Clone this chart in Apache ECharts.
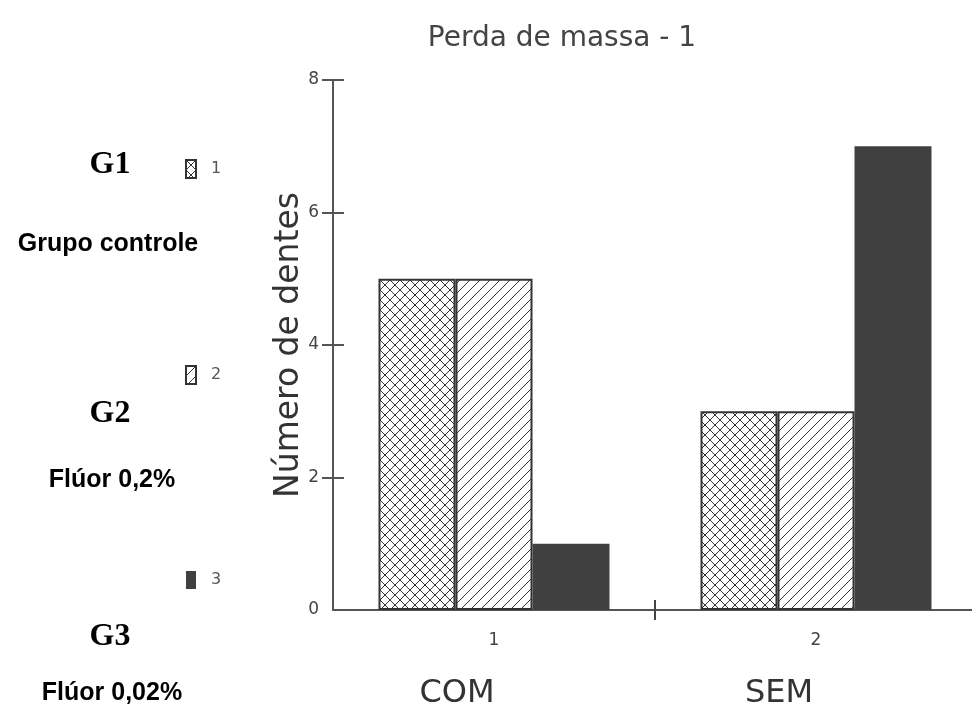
<!DOCTYPE html>
<html><head><meta charset="utf-8">
<script src="https://cdn.jsdelivr.net/npm/echarts@6/dist/echarts.min.js"></script>
<style>html,body{margin:0;padding:0;background:#fff}#c{width:972px;height:709px}</style>
</head><body><div id="c"></div>
<script>
const categories = ['1', '2'];
const categoryNames = ['COM', 'SEM'];
const seriesNames = ['1', '2', '3'];
const series1 = [5, 3];
const series2 = [5, 3];
const series3 = [1, 7];
const yTickValues = [2, 4, 6, 8];
const xTickValues = [1];

function makePattern(kind) {
  const s = 10;
  const c = document.createElement('canvas');
  c.width = s; c.height = s;
  const g = c.getContext('2d');
  g.fillStyle = '#fff'; g.fillRect(0, 0, s, s);
  g.strokeStyle = '#333'; g.lineWidth = 1;
  g.beginPath();
  g.moveTo(-1, s + 1); g.lineTo(s + 1, -1);
  if (kind === 'cross') { g.moveTo(-1, -1); g.lineTo(s + 1, s + 1); }
  g.stroke();
  return { image: c, repeat: 'repeat' };
}

const chart = echarts.init(document.getElementById('c'), null, { renderer: 'canvas' });
const fills = [makePattern('cross'), makePattern('diag'), '#404040'];
const values = [series1, series2, series3];

const tickAxis = inside => ({
  type: 'value', min: 0, max: 2, position: 'bottom',
  axisLine: { show: false }, axisLabel: { show: false }, splitLine: { show: false },
  axisTick: { show: true, inside: inside, length: 10, customValues: xTickValues, lineStyle: { color: '#444', width: 2 } }
});

chart.setOption({
  animation: false,
  title: {
    text: 'Perda de massa - 1', left: 557, top: 20, textAlign: 'center',
    textStyle: { fontFamily: 'DejaVu Sans', fontWeight: 'normal', fontSize: 28, color: '#444' }
  },
  legend: {
    orient: 'vertical', left: 180, top: 154, itemGap: 186,
    itemWidth: 10, itemHeight: 18, icon: 'rect',
    textStyle: { fontFamily: 'DejaVu Sans', fontSize: 16, color: '#555', padding: [0, 0, 0, 10] },
    data: seriesNames
  },
  grid: { left: 333, right: -5, top: 80, bottom: 99, outerBoundsMode: 'none' },
  xAxis: [{
    type: 'category', data: categories,
    axisLine: { lineStyle: { color: '#555', width: 2 } },
    axisTick: { show: false },
    axisLabel: {
      margin: 20, color: '#444',
      formatter: (v, i) => '{a|' + v + '}\n{b|' + categoryNames[i] + '}',
      rich: {
        a: { fontSize: 17, color: '#444', lineHeight: 22, fontFamily: 'DejaVu Sans' },
        b: { fontSize: 32, color: '#333', lineHeight: 58, fontFamily: 'DejaVu Sans', verticalAlign: 'bottom', padding: [0, 74, 0, 0] }
      }
    }
  }, tickAxis(false), tickAxis(true)],
  yAxis: [{
    type: 'value', min: 0, max: 8, interval: 2,
    name: 'Número de dentes', nameLocation: 'middle', nameGap: 27, nameRotate: 90, nameMoveOverlap: false,
    nameTextStyle: { fontFamily: 'DejaVu Sans', fontSize: 33, color: '#333' },
    axisLine: { show: true, lineStyle: { color: '#555', width: 2 } },
    axisTick: { show: true, length: 11, customValues: yTickValues, lineStyle: { color: '#555', width: 2 } },
    splitLine: { show: false },
    axisLabel: { margin: 14, color: '#444', fontFamily: 'DejaVu Sans', fontSize: 17 }
  }, {
    type: 'value', min: 0, max: 8, interval: 2, position: 'left',
    axisLine: { show: false }, axisLabel: { show: false }, splitLine: { show: false },
    axisTick: { show: true, inside: true, length: 11, customValues: yTickValues, lineStyle: { color: '#555', width: 2 } }
  }],
  series: seriesNames.map((n, i) => ({
    name: n, type: 'bar', data: values[i], barWidth: 77, barGap: '0%', xAxisIndex: 0, yAxisIndex: 0,
    itemStyle: { color: fills[i], borderColor: '#333', borderWidth: i === 2 ? 0 : 2 }
  })),
  graphic: [
    { type: 'text', x: 110, y: 165, style: { text: 'G1', fontFamily: 'Liberation Serif', fontWeight: 'bold', fontSize: 32, fill: '#000', align: 'center', verticalAlign: 'middle' } },
    { type: 'text', x: 108, y: 244, style: { text: 'Grupo controle', fontFamily: 'Liberation Sans', fontWeight: 'bold', fontSize: 25, fill: '#000', align: 'center', verticalAlign: 'middle' } },
    { type: 'text', x: 110, y: 414, style: { text: 'G2', fontFamily: 'Liberation Serif', fontWeight: 'bold', fontSize: 32, fill: '#000', align: 'center', verticalAlign: 'middle' } },
    { type: 'text', x: 112, y: 480, style: { text: 'Flúor 0,2%', fontFamily: 'Liberation Sans', fontWeight: 'bold', fontSize: 25, fill: '#000', align: 'center', verticalAlign: 'middle' } },
    { type: 'text', x: 110, y: 637, style: { text: 'G3', fontFamily: 'Liberation Serif', fontWeight: 'bold', fontSize: 32, fill: '#000', align: 'center', verticalAlign: 'middle' } },
    { type: 'text', x: 112, y: 693, style: { text: 'Flúor 0,02%', fontFamily: 'Liberation Sans', fontWeight: 'bold', fontSize: 25, fill: '#000', align: 'center', verticalAlign: 'middle' } }
  ]
});
</script></body></html>
